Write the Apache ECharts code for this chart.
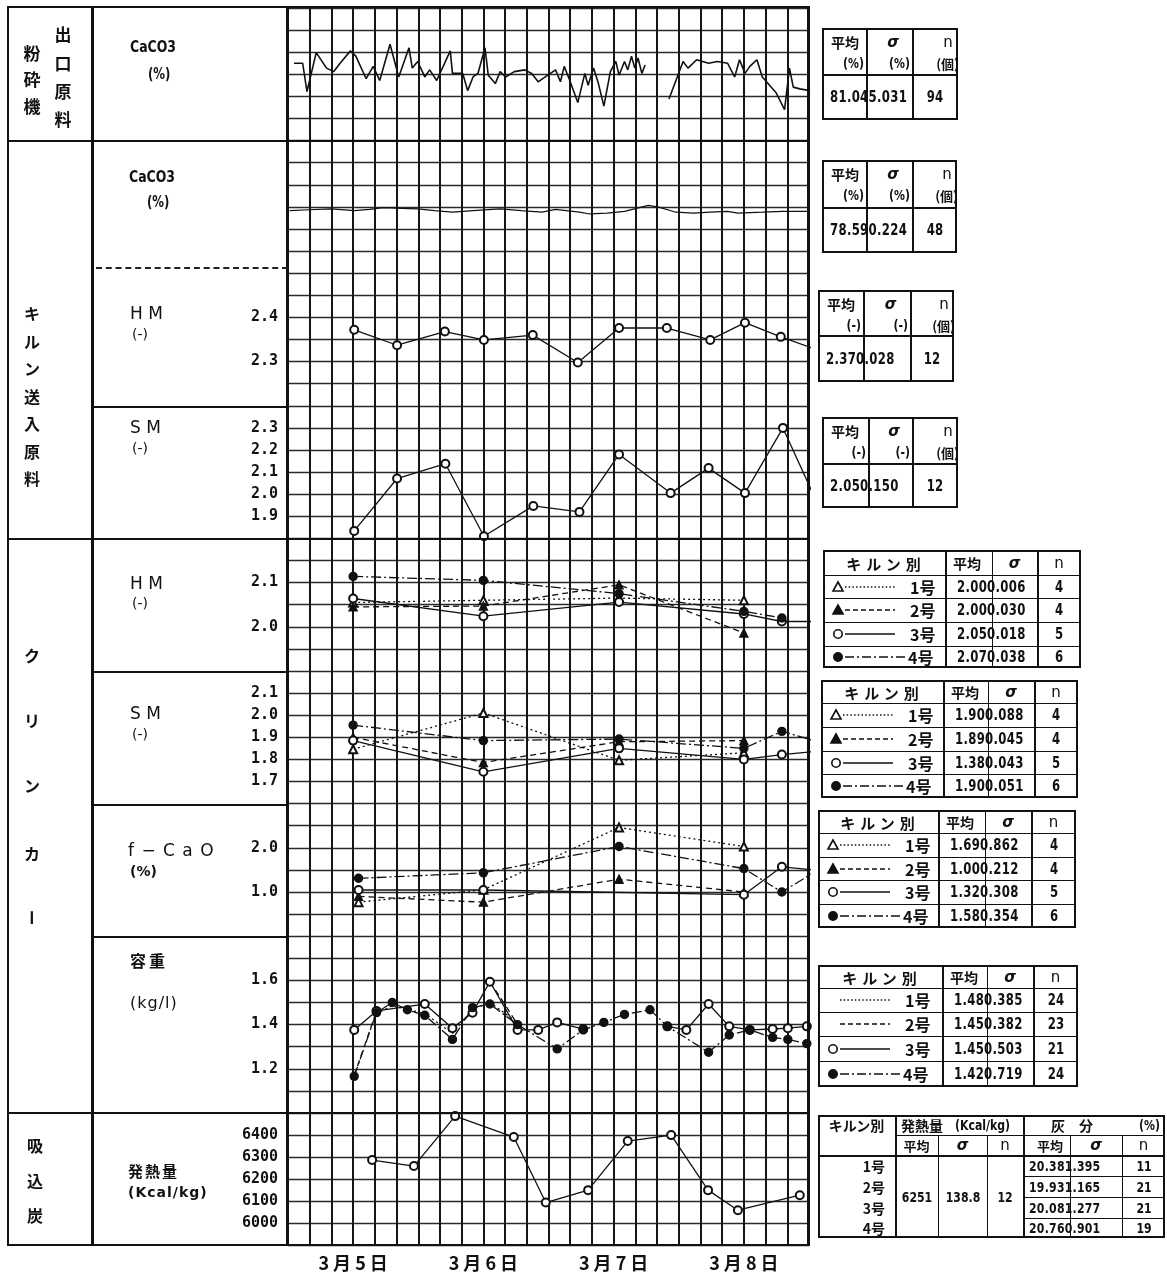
<!DOCTYPE html>
<html><head><meta charset="utf-8">
<script src="https://cdn.jsdelivr.net/npm/echarts@6/dist/echarts.min.js"></script>
<style>
html,body{margin:0;padding:0;background:#fff;}
#wrap{position:relative;width:1167px;height:1280px;overflow:hidden;background:#fff;}
#c{position:absolute;left:0;top:0;width:1167px;height:1280px;}
.t{position:absolute;white-space:nowrap;color:#111;line-height:1;}
.ln{position:absolute;background:#111;}
.jp{font-family:"Noto Sans CJK JP",sans-serif;font-weight:700;}
.lat{font-family:"DejaVu Sans",sans-serif;}
.num{font-family:"DejaVu Sans",sans-serif;font-weight:700;}
svg.lg{position:absolute;overflow:visible;}
</style></head><body><div id="wrap"><div id="c"></div></div>
<script>
// ---------------- DATA ----------------
const dateLabels = ['3 月 5 日','3 月 6 日','3 月 7 日','3 月 8 日'];
// 粉砕機出口原料 CaCO3 (%) : [hour, value]
const millCaCO3 = [[1.1,82.5],[2.7,82.5],[3.5,76.1],[5.2,84.9],[7.1,81.4],[8.4,80.6],[9.6,82.5],[11.5,85.3],[12.5,84.1],[14.4,79.0],[15.7,81.8],[16.9,78.6],[18.8,86.8],[20.4,79.4],[22.3,86.0],[22.9,81.4],[23.9,82.9],[25.2,79.4],[26.1,81.0],[27.4,78.6],[29.9,85.3],[30.3,80.2],[32.2,80.2],[33.1,76.3],[34.1,79.4],[35.0,80.2],[36.3,86.0],[36.9,79.8],[38.2,77.9],[39.1,80.6],[40.1,79.4],[41.7,80.6],[43.6,81.0],[44.9,80.2],[46.1,78.3],[47.4,79.4],[49.3,81.0],[50.2,78.3],[50.9,81.8],[51.8,79.0],[53.4,73.6],[54.7,80.2],[55.3,77.5],[56.3,81.4],[57.2,77.9],[58.2,72.8],[59.4,80.6],[60.4,82.9],[61.0,79.8],[62.0,82.9],[62.6,81.0],[63.3,84.1],[63.9,81.4],[64.5,83.7],[65.2,80.2],[65.8,82.1],[68.0,null],[70.2,74.4],[72.8,82.9],[73.7,81.4],[75.3,83.3],[77.5,82.5],[79.1,82.9],[81.0,82.5],[82.3,79.4],[83.2,83.3],[84.2,80.2],[85.1,81.8],[86.4,83.3],[87.4,79.4],[89.9,75.9],[91.5,72.0],[92.4,81.4],[93.1,77.1],[94.3,76.7],[96.2,76.3]];
// キルン送入原料 CaCO3 (%)
const feedCaCO3 = [[0.3,78.56],[4,78.6],[8,78.64],[12.2,78.56],[15,78.62],[17.6,78.7],[21,78.66],[23.9,78.64],[27,78.56],[30.3,78.49],[34.1,78.56],[39.1,78.64],[43,78.56],[46.8,78.49],[49.3,78.62],[53.7,78.49],[55.6,78.41],[58.8,78.45],[62,78.53],[66.4,78.8],[68.3,78.72],[71.5,78.49],[74.7,78.45],[77.8,78.49],[81,78.53],[82.9,78.45],[87.4,78.49],[91.2,78.53],[96,78.53]];
// キルン送入原料 HM / SM
const feedHM = [[12.2,2.372],[20.1,2.337],[28.9,2.368],[36.1,2.349],[45.1,2.360],[53.4,2.298],[61,2.376],[69.8,2.376],[77.8,2.349],[84.2,2.388],[90.8,2.356],[99,2.32]];
const feedSM = [[12.2,1.834],[20.1,2.071],[29,2.138],[36.1,1.81],[45.2,1.947],[53.7,1.92],[61,2.18],[70.5,2.005],[77.5,2.118],[84.2,2.005],[91.2,2.30],[99,1.88]];
// クリンカー HM (kiln 1..4)
const clinkerHM = [
  [[12,2.055],[36,2.06],[61,2.065],[84,2.06]],
  [[12,2.045],[36,2.047],[61,2.095],[84,1.986]],
  [[12,2.064],[36,2.024],[61,2.056],[84,2.029],[91,2.012],[99,2.012]],
  [[12,2.114],[36,2.105],[61,2.075],[84,2.035],[91,2.02]]
];
const clinkerSM = [
  [[12,1.846],[36,2.01],[61,1.796],[84,1.83]],
  [[12,1.90],[36,1.786],[61,1.88],[84,1.885]],
  [[12,1.885],[36,1.744],[61,1.85],[84,1.80],[91,1.822],[99,1.84]],
  [[12,1.955],[36,1.885],[61,1.892],[84,1.85],[91,1.927],[99,1.87]]
];
const clinkerFCaO = [
  [[13,0.77],[36,1.05],[61,2.46],[84,2.03]],
  [[13,0.9],[36,0.77],[61,1.29],[84,1.0]],
  [[13,1.045],[36,1.045],[84,0.94],[91,1.57],[97,1.5]],
  [[13,1.31],[36,1.434],[61,2.03],[84,1.53],[91,1.0],[97,1.45]]
];
const clinkerDensity = [
  [[16.3,1.45],[19.2,1.485],[22,1.47],[25.2,1.45],[30.3,1.36],[34,1.47],[37.2,1.50],[42.3,1.41]],
  [[12.2,1.17],[16.3,1.46],[26,null],[37.2,1.594],[40,1.49],[42.3,1.40]],
  [[12.2,1.376],[16.3,1.462],[25.2,1.493],[30.3,1.384],[34,1.454],[37.2,1.594],[42.3,1.376],[46.1,1.376],[49.6,1.41],[54.4,1.38],[60,null],[69.9,1.392],[73.4,1.376],[77.5,1.493],[81.3,1.392],[85.1,1.376],[89.3,1.38],[92.1,1.384],[95.6,1.392]],
  [[12.2,1.166],[16.3,1.454],[19.2,1.50],[22,1.467],[25.2,1.442],[30.3,1.333],[34,1.477],[37.2,1.493],[42.3,1.40],[49.6,1.29],[54.4,1.376],[58.2,1.41],[62,1.446],[66.7,1.467],[69.9,1.392],[77.5,1.275],[81.3,1.353],[85.1,1.376],[89.3,1.342],[92.1,1.333],[95.6,1.314]]
];
// 吸込炭 発熱量 (kcal/kg)
const heatValue = [[15.5,6287],[23.2,6260],[30.8,6486],[41.6,6391],[47.5,6095],[55.3,6151],[62.6,6373],[70.6,6400],[77.4,6151],[82.9,6060],[94.3,6128]];
// tick labels
const feedHMTicks = ['2.3','2.4'];
const feedSMTicks = ['1.9','2.0','2.1','2.2','2.3'];
const clHMTicks = ['2.0','2.1'];
const clSMTicks = ['1.7','1.8','1.9','2.0','2.1'];
const fcaoTicks = ['1.0','2.0'];
const densTicks = ['1.2','1.4','1.6'];
const heatTicks = ['6000','6100','6200','6300','6400'];
// table contents
const kilnNames = ['1号','2号','3号','4号'];
const feedStats = [
  {units:['(%)','(%)','(個)'], value:'81.045.031', n:'94'},
  {units:['(%)','(%)','(個)'], value:'78.590.224', n:'48'},
  {units:['(-)','(-)','(個)'], value:'2.370.028', n:'12'},
  {units:['(-)','(-)','(個)'], value:'2.050.150', n:'12'}
];
const clinkerHMStats = [['2.000.006','4'],['2.000.030','4'],['2.050.018','5'],['2.070.038','6']];
const clinkerSMStats = [['1.900.088','4'],['1.890.045','4'],['1.380.043','5'],['1.900.051','6']];
const fcaoStats = [['1.690.862','4'],['1.000.212','4'],['1.320.308','5'],['1.580.354','6']];
const densityStats = [['1.480.385','24'],['1.450.382','23'],['1.450.503','21'],['1.420.719','24']];
const heatStats = ['6251','138.8','12'];
const ashStats = [['20.381.395','11'],['19.931.165','21'],['20.081.277','21'],['20.760.901','19']];

// ---------------- LAYOUT HELPERS ----------------
const wrap = document.getElementById('wrap');
function ln(x,y,w,h,extra){const d=document.createElement('div');d.className='ln';d.style.cssText=`left:${x}px;top:${y}px;width:${w}px;height:${h}px;${extra||''}`;wrap.appendChild(d);return d;}
function rect(x,y,w,h,t){t=t||1.6;ln(x,y,w,t);ln(x,y+h-t,w,t);ln(x,y,t,h);ln(x+w-t,y,t,h);}
function txt(s,x,y,o){o=o||{};const cls=o.cls||'jp';const d=document.createElement('div');d.className='t '+cls;d.textContent=s;
  const a=o.a||'c';
  const tx=a==='l'?'0':a==='r'?'-100%':'-50%';
  const org=a==='l'?'0%':a==='r'?'100%':'50%';
  const sx=o.sx!=null?o.sx:(cls==='num'?0.78:1);
  d.style.cssText=`left:${x}px;top:${y}px;font-size:${o.size||16}px;letter-spacing:${o.ls||0}px;transform-origin:${org} 50%;transform:translate(${tx},-50%) scaleX(${sx});${o.extra||''}`;
  wrap.appendChild(d);return d;}
const NS='http://www.w3.org/2000/svg';
function legend(x,y,k,noSym){
  const s=document.createElementNS(NS,'svg');s.setAttribute('class','lg');s.setAttribute('width','90');s.setAttribute('height','14');
  s.style.left=x+'px';s.style.top=(y-7)+'px';
  const dash=[ '1.5,2.2','5,3','', '9,3,2,3'][k];
  const x2=[72,72,72,84][k];
  const l=document.createElementNS(NS,'line');l.setAttribute('x1',22);l.setAttribute('x2',x2);l.setAttribute('y1',7);l.setAttribute('y2',7);
  l.setAttribute('stroke','#111');l.setAttribute('stroke-width','1.5');if(dash)l.setAttribute('stroke-dasharray',dash);s.appendChild(l);
  if(!noSym){
    let m;
    if(k<2){m=document.createElementNS(NS,'polygon');m.setAttribute('points','15,2 10,11 20,11');}
    else{m=document.createElementNS(NS,'circle');m.setAttribute('cx',15);m.setAttribute('cy',7);m.setAttribute('r',4.2);}
    m.setAttribute('stroke','#111');m.setAttribute('stroke-width','1.6');m.setAttribute('fill',(k%2===1)?'#111':'#fff');s.appendChild(m);
  }
  wrap.appendChild(s);
}

// ---------------- FRAME ----------------
ln(7,6,803,2);            // top
ln(7,1244,803,2);         // bottom
ln(7,6,2,1240);           // outer left
ln(91,6,3,1240);          // column divider
ln(286,6,3,1240);         // grid left
ln(807,6,3,1240);         // grid right
[140,538,1112].forEach(y=>ln(7,y,803,2.2));
[406,671,804,936].forEach(y=>ln(93,y,195,1.8));
ln(96,267,192,0,'background:none;border-top:2px dashed #222;');

// column 1 labels
[['粉',32,52],['砕',32,78],['機',32,105],['出',63,33],['口',63,62],['原',63,90],['料',63,118]].forEach(a=>txt(a[0],a[1],a[2],{size:17}));
['キ','ル','ン','送','入','原','料'].forEach((c,i)=>txt(c,32,313+i*27.5,{size:16}));
[['ク',655],['リ',720],['ン',785],['カ',853]].forEach(a=>txt(a[0],32,a[1],{size:16}));
txt('ー',32,918,{size:16,extra:'writing-mode:vertical-rl;'});
[['吸',1145],['込',1180],['炭',1215]].forEach(a=>txt(a[0],35,a[1],{size:16}));

// column 2 labels
txt('CaCO3',130,47,{cls:'num',a:'l',size:16});
txt('(%)',148,74,{cls:'num',a:'l',size:15});
txt('CaCO3',129,177,{cls:'num',a:'l',size:16});
txt('(%)',147,202,{cls:'num',a:'l',size:15});
txt('H M',130,313,{cls:'lat',a:'l',size:17});
txt('(-)',132,334,{cls:'lat',a:'l',size:14});
txt('S M',130,427,{cls:'lat',a:'l',size:17});
txt('(-)',132,448,{cls:'lat',a:'l',size:14});
txt('H M',130,583,{cls:'lat',a:'l',size:17});
txt('(-)',132,603,{cls:'lat',a:'l',size:14});
txt('S M',130,713,{cls:'lat',a:'l',size:17});
txt('(-)',132,734,{cls:'lat',a:'l',size:14});
txt('f − C a O',128,850,{cls:'lat',a:'l',size:17,ls:1});
txt('(%)',130,871,{cls:'lat',a:'l',size:14,extra:'font-weight:bold;'});
txt('容重',130,960,{a:'l',size:16,ls:3});
txt('(kg/l)',130,1003,{cls:'lat',a:'l',size:16,ls:1});
txt('発熱量',128,1170,{a:'l',size:15,ls:2});
txt('(Kcal/kg)',128,1192,{cls:'lat',a:'l',size:14,ls:1,extra:'font-weight:bold;'});

// ---------------- TABLES ----------------
const simpleTables = [
  {x:822,y:28,w:136,h:92,c1:866,c2:912,hy:74},
  {x:822,y:160,w:135,h:93,c1:866,c2:912,hy:207},
  {x:818,y:290,w:136,h:92,c1:863,c2:910,hy:335},
  {x:822,y:417,w:136,h:91,c1:868,c2:912,hy:463}
];
simpleTables.forEach((t,i)=>{
  const st=feedStats[i];
  rect(t.x,t.y,t.w,t.h);
  ln(t.c1,t.y,1.6,t.h);ln(t.c2,t.y,1.6,t.h);ln(t.x,t.hy,t.w,1.6);
  txt('平均',t.x+9,t.y+14,{a:'l',size:14});
  txt(st.units[0],t.c1-2,t.y+35,{cls:'num',a:'r',size:14});
  txt('σ',(t.c1+t.c2)/2+4,t.y+14,{cls:'lat',size:15,extra:'font-style:italic;font-weight:bold;'});
  txt(st.units[1],t.c2-2,t.y+35,{cls:'num',a:'r',size:14});
  txt('n',t.x+t.w-10,t.y+14,{cls:'lat',size:15});
  txt(st.units[2],t.x+t.w+1,t.y+35,{a:'r',size:13});
  const yc=(t.hy+t.y+t.h)/2;
  txt(st.value,t.x+8,yc,{cls:'num',a:'l',size:15,ls:0.4});
  txt(st.n,(t.c2+t.x+t.w)/2,yc,{cls:'num',size:15});
});

const kilnTables = [
  {x:823,y:550,w:258,h:118,cols:[945,992,1037],rows:[575,598,622,646],stats:clinkerHMStats},
  {x:821,y:680,w:257,h:118,cols:[943,988,1034],rows:[703,727,751,774],stats:clinkerSMStats},
  {x:818,y:810,w:258,h:118,cols:[938,985,1031],rows:[833,857,880,904],stats:fcaoStats},
  {x:818,y:965,w:260,h:122,cols:[942,987,1033],rows:[988,1012,1036,1061],stats:densityStats,noSym:[true,true,false,false]}
];
kilnTables.forEach(t=>{
  rect(t.x,t.y,t.w,t.h);
  ln(t.cols[0],t.y,1.6,t.h);ln(t.cols[1],t.y,1,t.h);ln(t.cols[2],t.y,1.6,t.h);
  t.rows.forEach(r=>ln(t.x,r,t.w,1.4));
  const hy=(t.y+t.rows[0])/2;
  txt('キルン別',(t.x+t.cols[0])/2+2,hy,{size:15,ls:5});
  txt('平均',t.cols[0]+8,hy,{a:'l',size:14});
  txt('σ',(t.cols[1]+t.cols[2])/2,hy,{cls:'lat',size:15,extra:'font-style:italic;font-weight:bold;'});
  txt('n',(t.cols[2]+t.x+t.w)/2,hy,{cls:'lat',size:15});
  const edges=[...t.rows,t.y+t.h];
  for(let i=0;i<4;i++){
    const yc=(edges[i]+edges[i+1])/2;
    legend(t.x+0,yc,i,t.noSym&&t.noSym[i]);
    txt(kilnNames[i],t.x+(i===3?85:87),yc,{a:'l',size:16});
    txt(t.stats[i][0],t.cols[0]+12,yc,{cls:'num',a:'l',size:15,ls:0.4});
    txt(t.stats[i][1],(t.cols[2]+t.x+t.w)/2,yc,{cls:'num',size:15});
  }
});

// table for 吸込炭
(function(){
  const x=818,y=1115,w=347,h=123,c=[895,938,987,1023,1070,1122],r1=1135,r2=1155;
  const rows=[1155,1176,1197,1218,1238];
  rect(x,y,w,h);
  ln(c[0],y,1.6,h);ln(c[3],y,1.6,h);
  [c[1],c[2],c[4],c[5]].forEach(cx=>ln(cx,r1,1.4,y+h-r1));
  ln(c[0],r1,x+w-c[0],1.4);ln(x,r2,w,1.6);
  [1176,1197,1218].forEach(ry=>ln(c[3],ry,x+w-c[3],1.4));
  const h1=(y+r1)/2,h2=(r1+r2)/2;
  txt('キルン別',(x+c[0])/2,h1,{size:14,ls:0});
  txt('発熱量',c[0]+6,h1,{a:'l',size:14});
  txt('(Kcal/kg)',c[0]+60,h1,{cls:'num',a:'l',size:14});
  txt('灰　分',c[3]+28,h1,{a:'l',size:14});
  txt('(%)',x+w-5,h1,{cls:'num',a:'r',size:14});
  txt('平均',(c[0]+c[1])/2,h2,{size:13});
  txt('σ',(c[1]+c[2])/2,h2,{cls:'lat',size:15,extra:'font-style:italic;font-weight:bold;'});
  txt('n',(c[2]+c[3])/2,h2,{cls:'lat',size:15});
  txt('平均',c[3]+14,h2,{a:'l',size:13});
  txt('σ',(c[4]+c[5])/2,h2,{cls:'lat',size:15,extra:'font-style:italic;font-weight:bold;'});
  txt('n',(c[5]+x+w)/2,h2,{cls:'lat',size:15});
  for(let i=0;i<4;i++){
    const yc=(rows[i]+rows[i+1])/2;
    txt(kilnNames[i],c[0]-10,yc,{a:'r',size:14});
    txt(ashStats[i][0],c[3]+6,yc,{cls:'num',a:'l',size:14,ls:0.3});
    txt(ashStats[i][1],(c[5]+x+w)/2,yc,{cls:'num',size:14});
  }
  const ym=(r2+y+h)/2;
  txt(heatStats[0],(c[0]+c[1])/2,ym,{cls:'num',size:14});
  txt(heatStats[1],(c[1]+c[2])/2,ym,{cls:'num',size:14});
  txt(heatStats[2],(c[2]+c[3])/2,ym,{cls:'num',size:14});
})();

// ---------------- CHART ----------------
const ROW=22.1, TOP=8, LEFT=288, WIDTH=521;
const grids=[],xAxes=[],yAxes=[],series=[];
const INK='#111';
// background paper grid
grids.push({left:LEFT,top:TOP,width:WIDTH,height:56*ROW});
xAxes.push({gridIndex:0,type:'value',min:0,max:96,interval:4,axisLine:{show:false},axisTick:{show:false},axisLabel:{show:false},
  splitLine:{show:true,lineStyle:{color:'#161616',width:2}}});
yAxes.push({gridIndex:0,type:'value',min:0,max:56,interval:1,axisLine:{show:false},axisTick:{show:false},axisLabel:{show:false},
  splitLine:{show:true,lineStyle:{color:'#2a2a2a',width:1.3}}});

function panel(k0,k1,ymin,ymax,interval,ticks,digits,xLabels){
  const gi=grids.length;
  grids.push({left:LEFT,top:TOP+k0*ROW,width:WIDTH,height:(k1-k0)*ROW});
  const xa={gridIndex:gi,type:'value',min:0,max:96,axisLine:{show:false},axisTick:{show:false},splitLine:{show:false},axisLabel:{show:false}};
  if(xLabels){
    xa.interval=12;
    xa.axisLabel={show:true,margin:9,fontSize:18,fontWeight:'bold',fontFamily:'Noto Sans CJK JP',color:INK,
      formatter:v=>(Math.round(v)%24===12)?dateLabels[Math.round((v-12)/24)]:''};
  }
  xAxes.push(xa);
  const ya={gridIndex:gi,type:'value',min:ymin,max:ymax,axisLine:{show:false},axisTick:{show:false},splitLine:{show:false}};
  if(ticks){
    ya.interval=interval;
    ya.axisLabel={show:true,margin:10,fontSize:15,fontWeight:'bold',fontFamily:'DejaVu Sans Mono',color:INK,showMinLabel:true,showMaxLabel:true,
      formatter:v=>{const s=v.toFixed(digits);return ticks.includes(s)?s:'';}};
  } else ya.axisLabel={show:false};
  yAxes.push(ya);
  return gi;
}
const fix=d=>d.map(p=>[p[0],p[1]==null?'-':p[1]]);
function addLine(gi,data,o){
  o=o||{};
  series.push({type:'line',xAxisIndex:gi,yAxisIndex:gi,data:fix(data),clip:true,animation:false,silent:true,connectNulls:false,
    symbol:o.symbol||'none',symbolSize:o.size||7,showSymbol:!!o.symbol&&o.symbol!=='none',
    lineStyle:{color:INK,width:o.width||1.3,type:o.type||'solid'},
    itemStyle:{color:INK,borderColor:INK,borderWidth:1.4},z:3});
}
const kilnStyles=[{symbol:'emptyTriangle',type:[2,3]},{symbol:'triangle',type:[6,4]},{symbol:'emptyCircle',type:'solid'},{symbol:'circle',type:[10,3,2,3]}];

const gMill=panel(0,6,65,95);
addLine(gMill,millCaCO3,{width:1.6});
const gFeedCa=panel(6,12,75.73,81.73);
addLine(gFeedCa,feedCaCO3,{width:1.2});
const gFeedHM=panel(12,18,2.2,2.5,0.1,feedHMTicks,1);
addLine(gFeedHM,feedHM,{symbol:'emptyCircle',size:8});
const gFeedSM=panel(18,24,1.8,2.4,0.1,feedSMTicks,1);
addLine(gFeedSM,feedSM,{symbol:'emptyCircle',size:8});
const gClHM=panel(24,30,1.9,2.2,0.1,clHMTicks,1);
clinkerHM.forEach((d,i)=>addLine(gClHM,d,{symbol:kilnStyles[i].symbol,type:kilnStyles[i].type,size:8}));
const gClSM=panel(30,36,1.6,2.2,0.1,clSMTicks,1);
clinkerSM.forEach((d,i)=>addLine(gClSM,d,{symbol:kilnStyles[i].symbol,type:kilnStyles[i].type,size:8}));
const gFc=panel(36,42,0,3,1,fcaoTicks,1);
clinkerFCaO.forEach((d,i)=>addLine(gFc,d,{symbol:kilnStyles[i].symbol,type:kilnStyles[i].type,size:8}));
const gDen=panel(42,50,1.0,1.8,0.2,densTicks,1);
clinkerDensity.forEach((d,i)=>addLine(gDen,d,{symbol:i<2?'none':kilnStyles[i].symbol,type:kilnStyles[i].type,size:8}));
const gHeat=panel(50,56,5900,6500,100,heatTicks,0,true);
addLine(gHeat,heatValue,{symbol:'emptyCircle',size:8});

const chart=echarts.init(document.getElementById('c'),null,{renderer:'canvas',width:1167,height:1280,devicePixelRatio:1});
chart.setOption({animation:false,backgroundColor:'#fff',grid:grids,xAxis:xAxes,yAxis:yAxes,series:series});
</script></body></html>
